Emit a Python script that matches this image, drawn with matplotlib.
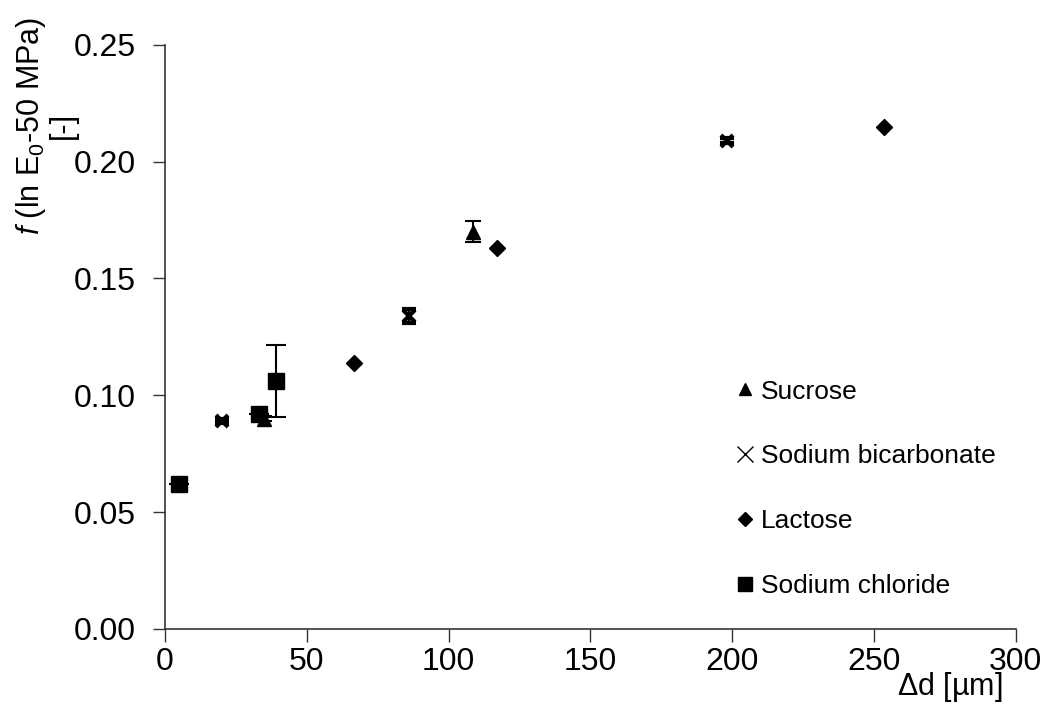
import matplotlib
matplotlib.use("Agg")
from matplotlib import pyplot as plt
from matplotlib.lines import Line2D

plt.rcParams['font.family'] = ['Liberation Sans', 'DejaVu Sans']
plt.rcParams['mathtext.fontset'] = 'custom'
plt.rcParams['mathtext.rm'] = 'Liberation Sans'
plt.rcParams['mathtext.it'] = 'Liberation Sans:italic'

# data: delta d [um], f [-], error
sucrose_x = [108.5, 35]
sucrose_y = [0.170, 0.090]
sucrose_err = [0.0045, 0.001]

bicarb_x = [20, 86, 198]
bicarb_y = [0.089, 0.134, 0.209]
bicarb_err = [0.001, 0.003, 0.001]

lactose_x = [66.5, 117, 253.5]
lactose_y = [0.114, 0.163, 0.215]
lactose_err = [0.0, 0.0, 0.0]

nacl_x = [5, 33, 39]
nacl_y = [0.062, 0.092, 0.106]
nacl_err = [0.0, 0.0, 0.0155]

x_ticks = [0, 50, 100, 150, 200, 250, 300]
y_ticks = [0.00, 0.05, 0.10, 0.15, 0.20, 0.25]

TICK_FS = 23
LEG_FS = 19
LAB_FS = 22

fig = plt.figure(figsize=(10.45, 7.13), dpi=100)
ax = fig.add_axes([0.158, 0.118, 0.814, 0.819])

ax.errorbar(nacl_x, nacl_y, yerr=nacl_err, fmt='s', color='black', ms=11,
            capsize=7, elinewidth=1.5, capthick=1.5, label='Sodium chloride', zorder=3)
ax.errorbar(lactose_x, lactose_y, yerr=lactose_err, fmt='D', color='black', ms=8,
            capsize=0, elinewidth=1.5, label='Lactose', zorder=3)
ax.errorbar(bicarb_x, bicarb_y, yerr=bicarb_err, fmt='x', color='black', ms=9, mew=3,
            capsize=5, elinewidth=1.5, capthick=1.5, label='Sodium bicarbonate', zorder=3)
ax.errorbar(sucrose_x, sucrose_y, yerr=sucrose_err, fmt='^', color='black', ms=10,
            capsize=6, elinewidth=1.5, capthick=1.5, label='Sucrose', zorder=3)

ax.set_xlim(0, 300)
ax.set_ylim(0, 0.25)
ax.set_xticks(x_ticks)
ax.set_yticks(y_ticks)
ax.set_yticklabels(["%.2f" % v for v in y_ticks])
ax.tick_params(labelsize=TICK_FS, direction='out', length=9, width=1, color='#333333')
ax.tick_params(axis='y', pad=12)
ax.tick_params(axis='x', pad=4)

ax.spines['top'].set_visible(False)
ax.spines['right'].set_visible(False)
for s in ['left', 'bottom']:
    ax.spines[s].set_color('#333333')
    ax.spines[s].set_linewidth(1.2)

ax.set_xlabel(r"$\Delta$d [µm]", fontsize=LAB_FS)
ax.xaxis.set_label_coords(0.922, -0.07)
ax.set_ylabel("$f$ (ln E$_0$-50 MPa)\n[-]", fontsize=LAB_FS, linespacing=1.0)
ax.yaxis.set_label_coords(-0.102, 0.862)

# legend handles: plain markers, drawn in the order shown
h, l = ax.get_legend_handles_labels()
order = [3, 2, 1, 0]
styles = {'Sucrose': ('^', 9, 1), 'Sodium bicarbonate': ('x', 11, 1),
          'Lactose': ('D', 7, 1), 'Sodium chloride': ('s', 10, 1)}
handles = []
for i in order:
    m, s, w = styles[l[i]]
    handles.append(Line2D([], [], ls='none', marker=m, color='black', ms=s, mew=w))
ax.legend(handles, [l[i] for i in order], loc='upper left', bbox_to_anchor=(0.66, 0.445),
          frameon=False, fontsize=LEG_FS, labelspacing=1.55, handlelength=0.6,
          handletextpad=0.3, borderaxespad=0)

fig.savefig("out.png", dpi=100, facecolor='white')
